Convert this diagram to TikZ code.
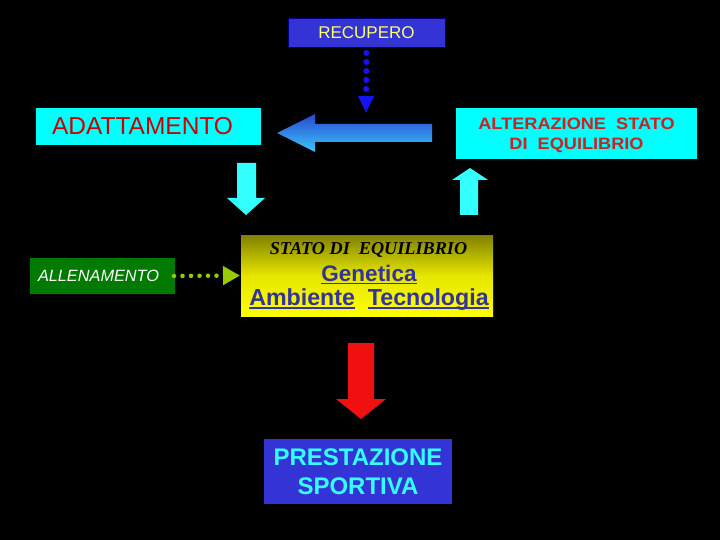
\documentclass[tikz,border=0pt]{standalone}
\usepackage{fontspec}
\setmainfont{Liberation Sans}
\newfontfamily\timesf{Liberation Serif}
\newfontfamily\widesans[FakeStretch=1.1]{Liberation Sans}
\newsavebox{\ulbox}
\newcommand{\myul}[1]{\sbox{\ulbox}{#1}\rlap{\rule[-2.75pt]{\wd\ulbox}{1.5pt}}\usebox{\ulbox}}
\usetikzlibrary{arrows.meta}
\definecolor{boxblue}{RGB}{51,51,214}
\definecolor{recyellow}{RGB}{255,255,102}
\definecolor{boxcyan}{RGB}{0,255,255}
\definecolor{adred}{RGB}{204,0,0}
\definecolor{altred}{RGB}{204,34,34}
\definecolor{boxgreen}{RGB}{0,122,0}
\definecolor{dotgreen}{RGB}{153,204,0}
\definecolor{txtblue}{RGB}{51,51,153}
\definecolor{lightcyan}{RGB}{51,255,255}
\definecolor{arrred}{RGB}{240,16,16}
\definecolor{olive}{RGB}{128,128,0}
\definecolor{yel}{RGB}{255,255,0}
\definecolor{dotblue}{RGB}{20,20,240}
\tikzset{
  box/.style={rectangle, inner sep=0pt, outer sep=0pt},
}
\begin{document}
\begin{tikzpicture}[x=1pt,y=-1pt]
\fill[black] (0,0) rectangle (720,540);
\useasboundingbox (0,0) rectangle (720,540);

% boxes
\node[box, fill=boxblue, draw=blue!50!black, minimum width=157pt, minimum height=29pt,
      text=recyellow, font=\fontsize{17}{20}\selectfont] (rec) at (366.5,32.5) {RECUPERO};

\node[box, fill=boxcyan, minimum width=225pt, minimum height=37pt, inner xsep=16pt,
      text width=193pt, align=left, text=adred, font=\fontsize{24.5}{28}\selectfont]
      (adat) at (148.5,126.5) {ADATTAMENTO};

\node[box, fill=boxcyan, minimum width=241pt, minimum height=51pt] (alt) at (576.5,133.5) {};
\node[align=center, text=altred, font=\widesans\bfseries\fontsize{16.5}{20.5}\selectfont]
      (altt) at (576.5,135.5) {ALTERAZIONE\ \ STATO\\DI\ \ EQUILIBRIO};

\node[box, fill=boxgreen, minimum width=145pt, minimum height=36pt, inner xsep=8pt,
      text width=129pt, align=left, text=white, font=\itshape\fontsize{16.3}{19}\selectfont]
      (allen) at (102.5,276) {ALLENAMENTO};

\shade[top color=olive, bottom color=yel, middle color=yel!80!olive] (241,235) rectangle (493,316);
\node[box, minimum width=252pt, minimum height=81pt] (stato) at (367,275.5) {};
\node[font=\timesf\bfseries\itshape\fontsize{18.2}{20}\selectfont, text=black] (statot) at (368.5,250) {STATO DI\ \ EQUILIBRIO};
\node[font=\bfseries\fontsize{22.5}{24}\selectfont, text=txtblue] (gen) at (369,274.5) {\myul{Genetica}};
\node[font=\bfseries\fontsize{23.2}{24}\selectfont, text=txtblue] (amb) at (369,300) {\myul{Ambiente}\ \ \myul{Tecnologia}};

\node[box, fill=boxblue, minimum width=188pt, minimum height=65pt, align=center,
      text=lightcyan, font=\bfseries\fontsize{24}{29.5}\selectfont]
      (prest) at (358,471.5) {PRESTAZIONE\\SPORTIVA};

% dotted connectors
\coordinate (recend) at (366,113);
\draw[dotblue, line width=6pt, line cap=round, dash pattern=on 0pt off 9pt, shorten <=6pt,
      -{Triangle[width=15pt,length=17pt]}] (rec.south) -- (recend);
\draw[dotgreen, line width=4.5pt, line cap=round, dash pattern=on 0pt off 8.5pt,
      -{Triangle[width=18pt,length=17pt]}] ([xshift=-1pt]allen.east) -- ([xshift=-1pt]stato.west);

% fat arrows
\shade[top color={rgb,255:red,40;green,70;blue,210}, bottom color={rgb,255:red,60;green,200;blue,250}]
  (432,124) -- (315,124) -- (315,114) -- (277,133) -- (315,152) -- (315,142) -- (432,142) -- cycle;
\fill[lightcyan] (237,163) -- (256,163) -- (256,198) -- (265,198) -- (246,215) -- (227,198) -- (237,198) -- cycle;
\fill[lightcyan] (460,215) -- (478,215) -- (478,180) -- (488,180) -- (470,168) -- (452,180) -- (460,180) -- cycle;
\fill[arrred] (348,343) -- (374,343) -- (374,399) -- (386,399) -- (361,419) -- (336,399) -- (348,399) -- cycle;
\end{tikzpicture}
\end{document}
